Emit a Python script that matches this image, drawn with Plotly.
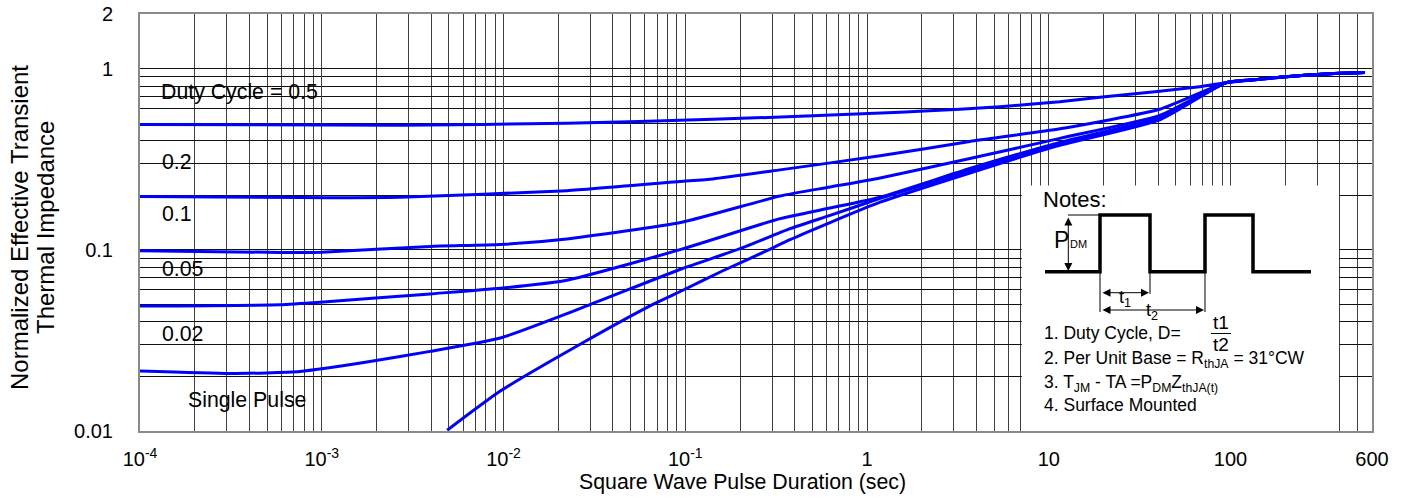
import math
import plotly.graph_objects as go

# Normalized transient thermal impedance vs. square-wave pulse duration (s)
t_d05 = [1e-4, 2.7e-3, 0.0223, 0.142, 0.428, 1.52, 3.24, 5.38, 11.5, 19.1, 40.8, 67.6, 94, 144.5, 186, 351, 546]
z_d05 = [0.492, 0.486, 0.499, 0.525, 0.545, 0.574, 0.596, 0.615, 0.656, 0.695, 0.750, 0.794, 0.835, 0.873, 0.896, 0.937, 0.951]

t_d02 = [1e-4, 7.6e-4, 2.7e-3, 0.0223, 0.0935, 0.142, 0.332, 1.18, 3.68, 11.5, 40.8, 94, 144.5, 186, 351, 546]
z_d02 = [0.197, 0.194, 0.195, 0.212, 0.238, 0.246, 0.276, 0.330, 0.396, 0.465, 0.596, 0.835, 0.873, 0.896, 0.937, 0.951]

t_d01 = [1e-4, 5.9e-4, 1e-3, 3.95e-3, 9.6e-3, 0.0223, 0.0957, 0.332, 0.626, 1.18, 3.68, 11.5, 40.8, 94, 144.5, 186, 351, 546]
z_d01 = [0.0988, 0.0967, 0.097, 0.1044, 0.1069, 0.1147, 0.1418, 0.198, 0.222, 0.249, 0.319, 0.412, 0.552, 0.835, 0.873, 0.896, 0.937, 0.951]

t_d005 = [1e-4, 5.9e-4, 9.8e-4, 3.95e-3, 9.6e-3, 0.0223, 0.0957, 0.332, 0.626, 1.18, 3.68, 11.5, 40.8, 94, 144.5, 186, 351, 546]
z_d005 = [0.0489, 0.0497, 0.0513, 0.0571, 0.0613, 0.0679, 0.1008, 0.1486, 0.170, 0.195, 0.281, 0.3915, 0.538, 0.835, 0.873, 0.896, 0.937, 0.951]

t_d002 = [1e-4, 3.14e-4, 7.6e-4, 1.77e-3, 3.95e-3, 9.6e-3, 0.0287, 0.0957, 0.200, 0.377, 0.626, 1.18, 3.68, 11.5, 40.8, 94, 144.5, 186, 351, 546]
z_d002 = [0.0214, 0.02075, 0.0213, 0.0240, 0.0275, 0.0326, 0.049, 0.0786, 0.1014, 0.1308, 0.1548, 0.192, 0.274, 0.384, 0.529, 0.835, 0.873, 0.896, 0.937, 0.951]

t_single = [4.9e-3, 9.6e-3, 0.0264, 0.0668, 0.0957, 0.161, 0.281, 0.377, 0.626, 1.18, 3.68, 11.5, 40.8, 94, 144.5, 186, 351, 546]
z_single = [0.0101, 0.0166, 0.0301, 0.0501, 0.0594, 0.0766, 0.0988, 0.1137, 0.1413, 0.183, 0.2654, 0.377, 0.5214, 0.835, 0.873, 0.896, 0.937, 0.951]

series = [
    (t_d05, z_d05),
    (t_d02, z_d02),
    (t_d01, z_d01),
    (t_d005, z_d005),
    (t_d002, z_d002),
    (t_single, z_single),
]

curve_labels = ["Duty Cycle = 0.5", "0.2", "0.1", "0.05", "0.02", "Single Pulse"]

x_tickvals = [1e-4, 1e-3, 1e-2, 1e-1, 1, 10, 100, 600]
x_ticktext = ["10<sup>-4</sup>", "10<sup>-3</sup>", "10<sup>-2</sup>", "10<sup>-1</sup>",
              "1", "10", "100", "600"]
y_tickvals = [0.01, 0.1, 1, 2]
y_ticktext = ["0.01", "0.1", "1", "2"]

# grid lines: every digit within each decade on x; 0.02-0.09 and 0.2-0.9 on y
x_minor = [m * 10.0 ** e for e in range(-4, 3) for m in range(2, 10) if m * 10.0 ** e < 600]
y_minor = [m / 100 for m in range(2, 10)] + [m / 10 for m in range(2, 10)]

# canvas geometry
FIG_W, FIG_H = 1405, 497
M_L, M_R, M_T, M_B = 140, 33, 14, 66
PW = FIG_W - M_L - M_R
PH = FIG_H - M_T - M_B


def px(x):
    return (x - M_L) / PW


def py(y):
    return (FIG_H - M_B - y) / PH


FONT = "Liberation Sans, Arial, sans-serif"

fig = go.Figure()
for t, z in series:
    fig.add_trace(go.Scatter(x=t, y=z, mode="lines",
                             line=dict(color="#0000ff", width=3, shape="spline", smoothing=0.5),
                             showlegend=False, hoverinfo="skip"))

fig.update_layout(
    width=FIG_W, height=FIG_H,
    margin=dict(l=M_L, r=M_R, t=M_T, b=M_B, pad=0, autoexpand=False),
    paper_bgcolor="white", plot_bgcolor="white",
    font=dict(family=FONT, color="black", size=20),
)

fig.update_xaxes(
    type="log", range=[-4, math.log10(600)], automargin=False,
    tickmode="array", tickvals=x_tickvals, ticktext=x_ticktext,
    ticks="", ticklabelstandoff=9, tickfont=dict(size=20),
    showgrid=True, gridcolor="#404040", gridwidth=1.4,
    minor=dict(tickmode="array", tickvals=x_minor, showgrid=True,
               gridcolor="#404040", gridwidth=1.4, ticks=""),
    showline=True, mirror=True, linecolor="#8a8a8a", linewidth=2,
    zeroline=False,
)
fig.update_yaxes(
    type="log", range=[-2, math.log10(2)], automargin=False,
    tickmode="array", tickvals=y_tickvals, ticktext=y_ticktext,
    ticks="", ticklabelstandoff=21, tickfont=dict(size=20),
    showgrid=True, gridcolor="#111111", gridwidth=1,
    minor=dict(tickmode="array", tickvals=y_minor, showgrid=True,
               gridcolor="#111111", gridwidth=1, ticks=""),
    showline=True, mirror=True, linecolor="#8a8a8a", linewidth=2,
    zeroline=False,
)

shapes = []
annotations = []

# white panel holding the notes
shapes.append(dict(type="rect", xref="x", yref="y", x0=7.1, x1=395, y0=0.01, y1=0.226,
                   fillcolor="white", line=dict(width=0), layer="between"))

# curve labels
label_pos = [(159, 92), (160, 162), (160, 214), (160, 269), (160, 334), (186, 400)]
for text, (lx, ly) in zip(curve_labels, label_pos):
    annotations.append(dict(text=text, xref="paper", yref="paper", x=px(lx), y=py(ly),
                            xanchor="left", yanchor="middle", showarrow=False,
                            font=dict(size=21.3)))

# axis titles
annotations.append(dict(text="Square Wave Pulse Duration (sec)", xref="paper", yref="paper",
                        x=px(742), y=py(482), xanchor="center", yanchor="middle",
                        showarrow=False, font=dict(size=21.3)))
for line_text, lx in [("Normalized Effective Transient", 20), ("Thermal Impedance", 46)]:
    annotations.append(dict(text=line_text, xref="paper", yref="paper", x=px(lx), y=py(228),
                            xanchor="center", yanchor="middle", textangle=-90,
                            showarrow=False, font=dict(size=24)))

# pulse-train sketch
wave = [(1045, 271.7), (1100, 271.7), (1100, 215), (1150, 215), (1150, 271.7),
        (1205, 271.7), (1205, 215), (1253, 215), (1253, 271.7), (1311, 271.7)]
path = "M " + " L ".join(f"{px(x):.5f},{py(y):.5f}" for x, y in wave)
shapes.append(dict(type="path", xref="paper", yref="paper", path=path,
                   line=dict(color="black", width=3.5)))

thin = dict(color="black", width=1)
for x0, y0, x1, y1 in [(1068, 215, 1100, 215), (1100, 272, 1100, 312),
                       (1150, 272, 1150, 294), (1205, 272, 1205, 312),
                       (1211, 333.5, 1231, 333.5)]:
    shapes.append(dict(type="line", xref="paper", yref="paper",
                       x0=px(x0), y0=py(y0), x1=px(x1), y1=py(y1), line=thin))

# dimension arrows
for (xs, ys, xe, ye) in [(1068.3, 216, 1068.3, 271), (1101, 292.7, 1149, 292.7),
                         (1101, 310, 1204, 310)]:
    annotations.append(dict(text="", xref="paper", yref="paper", x=px(xe), y=py(ye),
                            ax=xs - xe, ay=ys - ye, showarrow=True,
                            arrowside="end+start", arrowhead=2, arrowsize=1.6,
                            arrowwidth=1, arrowcolor="black", standoff=0,
                            startstandoff=0))

notes_text = [
    ("Notes:", 1041, 199, 22),
    ("P", 1052, 240, 23),
    ("DM", 1068, 244, 11),
    ("t<sub>1</sub>", 1117, 298, 18),
    ("t<sub>2</sub>", 1144, 311, 18),
    ("1. Duty Cycle, D=", 1042, 333, 17.5),
    ("t1", 1221, 322.5, 19),
    ("t2", 1221, 344.5, 19),
    ("2. Per Unit Base = R<sub>thJA</sub> = 31°CW", 1042, 359, 17.5),
    ("3. T<sub>JM</sub> - TA =P<sub>DM</sub>Z<sub>thJA(t)</sub>", 1042, 383, 17.5),
    ("4. Surface Mounted", 1042, 405, 17.5),
]
for text, nx, ny, size in notes_text:
    centered = text in ("t1", "t2")
    annotations.append(dict(text=text, xref="paper", yref="paper", x=px(nx), y=py(ny),
                            xanchor="center" if centered else "left", yanchor="middle",
                            showarrow=False, font=dict(size=size)))

fig.update_layout(shapes=shapes, annotations=annotations)

fig.write_html("out.html")
